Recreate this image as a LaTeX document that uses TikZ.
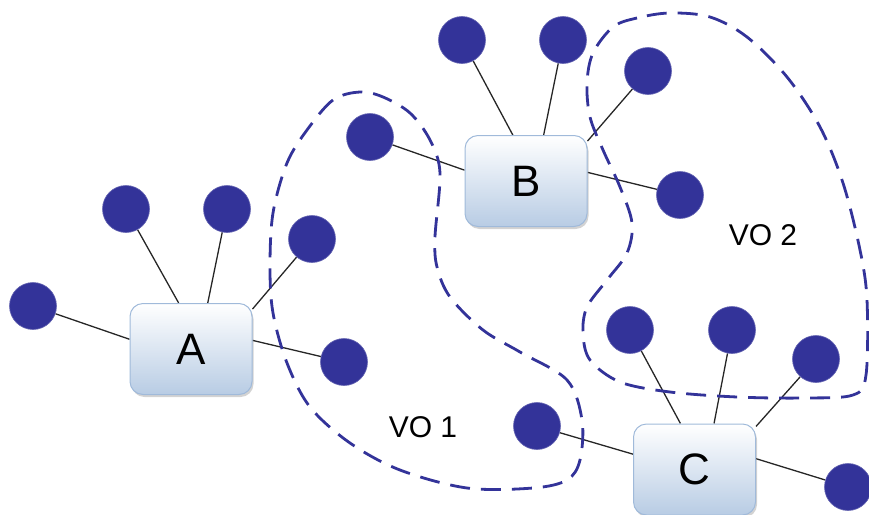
\documentclass[tikz,border=0pt]{standalone}
\usepackage{fontspec}
\setmainfont{Liberation Sans}
\usetikzlibrary{shadows,backgrounds}
\definecolor{dotblue}{RGB}{51,51,153}
\definecolor{boxedge}{RGB}{160,186,218}
\definecolor{boxbot}{RGB}{184,204,228}
\begin{document}
\begin{tikzpicture}[x=1pt,y=-1pt,
  dot/.style={circle,fill=dotblue,draw=dotblue!75!white,line width=0.6pt,minimum size=47pt,inner sep=0pt},
  hub/.style={rounded corners=13pt,draw=boxedge,line width=1pt,top color=white,bottom color=boxbot,
    minimum width=122pt,minimum height=91pt,inner sep=0pt,font=\fontsize{44}{44}\selectfont,
    drop shadow={shadow xshift=1.5pt,shadow yshift=-2.5pt,opacity=0.35,fill=gray}},
  link/.style={line width=1.3pt,black!85},
  vo/.style={draw=dotblue,line width=2.8pt,dash pattern=on 20pt off 11pt},
  lbl/.style={font=\fontsize{30}{30}\selectfont}]
\useasboundingbox (0,0) rectangle (869,514);
% hubs
\node[hub] (A) at (191,349) {A};
\node[hub] (B) at (526,181) {B};
\node[hub] (C) at (694.5,469.5) {C};
% dots around A
\node[dot] (a1) at (33,306) {};
\node[dot] (a2) at (126,209) {};
\node[dot] (a3) at (227,209) {};
\node[dot] (a4) at (312,239) {};
\node[dot] (a5) at (344,362) {};
% dots around B
\node[dot] (b1) at (370,137) {};
\node[dot] (b2) at (462,40) {};
\node[dot] (b3) at (563,40) {};
\node[dot] (b4) at (648,71) {};
\node[dot] (b5) at (680,195) {};
% dots around C
\node[dot] (c1) at (537,426) {};
\node[dot] (c2) at (630,330) {};
\node[dot] (c3) at (732,330) {};
\node[dot] (c4) at (816,359) {};
\node[dot] (c5) at (848,487) {};
% connectors
\begin{scope}[on background layer]
\draw[link] (a1) -- (A.171.6);
\draw[link] (a2) -- (A.105.8);
\draw[link] (a3) -- (A.70.8);
\draw[link] (a4) -- (A.33.5);
\draw[link] (a5) -- (A.8.4);
\draw[link] (b1) -- (B.170);
\draw[link] (b2) -- (B.106.5);
\draw[link] (b3) -- (B.69);
\draw[link] (b4) -- (B.33);
\draw[link] (b5) -- (B.8.4);
\draw[link] (c1) -- (C.166.7);
\draw[link] (c2) -- (C.107.7);
\draw[link] (c3) -- (C.67.9);
\draw[link] (c4) -- (C.35.8);
\draw[link] (c5) -- (C.10.6);
\end{scope}
% virtual organisations
\draw[vo] plot[smooth cycle,tension=0.55] coordinates {
  (360,92) (333,100) (307,130) (287,163) (273,213) (270,267) (273,313) (287,363)
  (310,407) (350,443) (400,470) (467,488) (533,488) (567,480) (580,460) (582,420)
  (567,380) (520,352) (483,330) (450,297) (437,267) (435,237) (440,173) (430,140)
  (410,113) (383,97)};
\draw[vo] plot[smooth cycle,tension=0.55] coordinates {
  (670,13) (637,18) (613,27) (593,53) (587,83) (590,117) (603,150) (620,187) (632,223)
  (627,253) (607,280) (587,307) (583,333) (590,360) (620,382) (670,392) (737,397)
  (803,398) (853,395) (866,375) (867,300) (860,250) (843,183) (820,127) (787,77)
  (747,37) (710,17)};
\node[lbl] (vo1) at (423,427) {VO 1};
\node[lbl] (vo2) at (763,235) {VO 2};
\end{tikzpicture}
\end{document}
